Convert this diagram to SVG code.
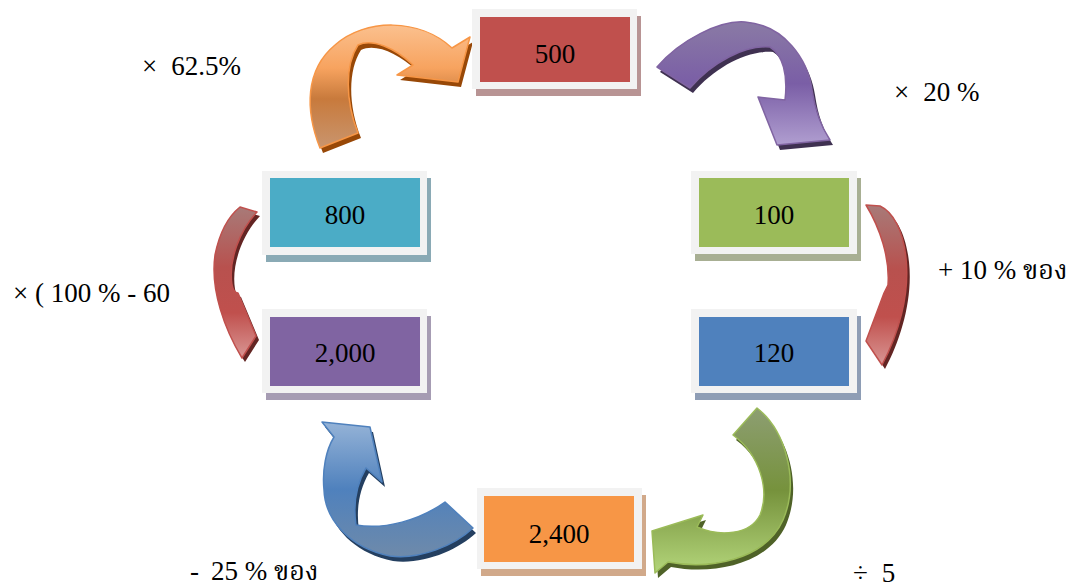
<svg xmlns="http://www.w3.org/2000/svg" width="1078" height="587" viewBox="0 0 1078 587">
<defs>
<style>
.frame{fill:#F2F2F2}
.num{font-family:"Liberation Serif","Times New Roman",serif;font-size:27px;fill:#000;text-anchor:middle}
.lbl{font-family:"Liberation Serif","Times New Roman","Noto Serif Thai","Noto Sans Thai",serif;font-size:27px;fill:#000}
.arr{stroke-width:1.5;stroke-linejoin:round}
</style>
<linearGradient id="gOrange" x1="0" y1="0" x2="0" y2="1">
<stop offset="0" stop-color="#FBC08E"/><stop offset="0.35" stop-color="#F7A35F"/><stop offset="0.6" stop-color="#C87A3C"/><stop offset="1" stop-color="#C9956E"/>
</linearGradient>
<linearGradient id="gPurple" x1="0" y1="0" x2="0" y2="1">
<stop offset="0" stop-color="#8A7AA5"/><stop offset="0.5" stop-color="#7A5EA6"/><stop offset="1" stop-color="#B09ED0"/>
</linearGradient>
<linearGradient id="gRed" x1="0" y1="0" x2="0" y2="1">
<stop offset="0" stop-color="#A87A78"/><stop offset="0.4" stop-color="#B8514E"/><stop offset="0.7" stop-color="#C0504D"/><stop offset="1" stop-color="#D99694"/>
</linearGradient>
<linearGradient id="gGreen" x1="0" y1="0" x2="0" y2="1">
<stop offset="0" stop-color="#8D9E72"/><stop offset="0.5" stop-color="#76923C"/><stop offset="1" stop-color="#B3D57A"/>
</linearGradient>
<linearGradient id="gBlue" x1="0" y1="0" x2="0" y2="1">
<stop offset="0" stop-color="#95B3D7"/><stop offset="0.5" stop-color="#4F81BD"/><stop offset="1" stop-color="#6E8AAA"/>
</linearGradient>
</defs>
<rect width="1078" height="587" fill="#FFFFFF"/>

<g id="connectors">
<g id="arrow-500-100">
<path transform="translate(3,5)" fill="#3F3151" d="M657,67 C680,40 720,20 745,22 C785,25 808,60 812,90 C815,110 820,125 830,140 L777,145 L758,97 L785,100 C788,75 783,55 770,47 C745,45 712,62 690,88 Z"/>
<path class="arr" fill="url(#gPurple)" stroke="#8064A2" d="M657,67 C680,40 720,20 745,22 C785,25 808,60 812,90 C815,110 820,125 830,140 L777,145 L758,97 L785,100 C788,75 783,55 770,47 C745,45 712,62 690,88 Z"/>
</g>
<g id="arrow-100-120">
<path transform="translate(3,4)" fill="#632523" d="M880,206 L866,205 C880,228 890,258 888,285 L884,293 L866,341 L882,365 C898,335 910,295 906,258 C903,230 893,212 880,206 Z"/>
<path class="arr" fill="url(#gRed)" stroke="#C0504D" d="M880,206 L866,205 C880,228 890,258 888,285 L884,293 L866,341 L882,365 C898,335 910,295 906,258 C903,230 893,212 880,206 Z"/>
</g>
<g id="arrow-120-2400">
<path transform="translate(3,5)" fill="#4F6228" d="M757,408 C785,430 800,480 783,520 C765,560 710,570 668,562 L655,573 L652,531 L703,515 L697,527 C720,537 750,535 760,515 C770,490 760,455 733,435 Z"/>
<path class="arr" fill="url(#gGreen)" stroke="#9BBB59" d="M757,408 C785,430 800,480 783,520 C765,560 710,570 668,562 L655,573 L652,531 L703,515 L697,527 C720,537 750,535 760,515 C770,490 760,455 733,435 Z"/>
</g>
<g id="arrow-2400-2000">
<path transform="translate(3,5)" fill="#243F60" d="M445,502 L473,528 C455,545 420,560 390,556 C350,548 325,520 324,490 C322,470 326,450 334,437 L322,422 L370,427 L382,482 L366,468 C356,485 353,505 356,525 C385,530 420,520 445,502 Z"/>
<path class="arr" fill="url(#gBlue)" stroke="#4F81BD" d="M445,502 L473,528 C455,545 420,560 390,556 C350,548 325,520 324,490 C322,470 326,450 334,437 L322,422 L370,427 L382,482 L366,468 C356,485 353,505 356,525 C385,530 420,520 445,502 Z"/>
</g>
<g id="arrow-800-2000">
<path transform="translate(3,4)" fill="#632523" d="M240,207 L257,212 C240,230 228,260 232,285 C233,290 235,293 238,293 L256,336 L242,358 C225,330 210,290 215,255 C220,230 230,215 240,207 Z"/>
<path class="arr" fill="url(#gRed)" stroke="#C0504D" d="M240,207 L257,212 C240,230 228,260 232,285 C233,290 235,293 238,293 L256,336 L242,358 C225,330 210,290 215,255 C220,230 230,215 240,207 Z"/>
</g>
<g id="arrow-800-500">
<path transform="translate(3,5)" fill="#984807" d="M320,148 C305,110 305,70 335,45 C365,18 420,18 452,48 L470,37 L458,82 L397,75 L413,65 C395,48 372,38 358,45 C345,65 345,100 358,133 Z"/>
<path class="arr" fill="url(#gOrange)" stroke="#F79646" d="M320,148 C305,110 305,70 335,45 C365,18 420,18 452,48 L470,37 L458,82 L397,75 L413,65 C395,48 372,38 358,45 C345,65 345,100 358,133 Z"/>
</g>
</g>

<g id="node-500">
<rect x="476" y="16" width="165" height="80" fill="#B89494"/>
<rect class="frame" x="472" y="9" width="165" height="80"/>
<rect x="480" y="17" width="150" height="65" fill="#C0504D"/>
<text class="num" x="555" y="63">500</text>
</g>
<g id="node-100">
<rect x="695" y="178" width="166" height="83" fill="#A8AF93"/>
<rect class="frame" x="691" y="171" width="166" height="83"/>
<rect x="699" y="178" width="150" height="69" fill="#9BBB59"/>
<text class="num" x="774" y="224">100</text>
</g>
<g id="node-120">
<rect x="695" y="316" width="166" height="84" fill="#8E9DB5"/>
<rect class="frame" x="691" y="309" width="166" height="84"/>
<rect x="699" y="317" width="150" height="69" fill="#4F81BD"/>
<text class="num" x="774" y="362">120</text>
</g>
<g id="node-2400">
<rect x="481" y="495" width="165" height="81" fill="#D1A98A"/>
<rect class="frame" x="477" y="488" width="165" height="81"/>
<rect x="484" y="496" width="150" height="66" fill="#F79646"/>
<text class="num" x="559" y="543">2,400</text>
</g>
<g id="node-2000">
<rect x="266" y="316" width="165" height="84" fill="#A69CB3"/>
<rect class="frame" x="262" y="309" width="165" height="84"/>
<rect x="270" y="317" width="150" height="69" fill="#8064A2"/>
<text class="num" x="345" y="362">2,000</text>
</g>
<g id="node-800">
<rect x="266" y="178" width="165" height="84" fill="#8AAAB5"/>
<rect class="frame" x="262" y="171" width="165" height="84"/>
<rect x="270" y="178" width="150" height="69" fill="#4BACC6"/>
<text class="num" x="345" y="224">800</text>
</g>

<g id="labels">
<text class="lbl" x="142" y="75">×<tspan dx="14">62.5%</tspan></text>
<text class="lbl" x="894" y="101">×<tspan dx="14">20 %</tspan></text>
<text class="lbl" x="938" y="279">+ 10 % ของ</text>
<text class="lbl" x="13" y="302">× ( 100 % - 60</text>
<text class="lbl" x="190" y="580">-<tspan dx="12">25 % ของ</tspan></text>
<text class="lbl" x="853" y="582">÷<tspan dx="14">5</tspan></text>
</g>
</svg>
